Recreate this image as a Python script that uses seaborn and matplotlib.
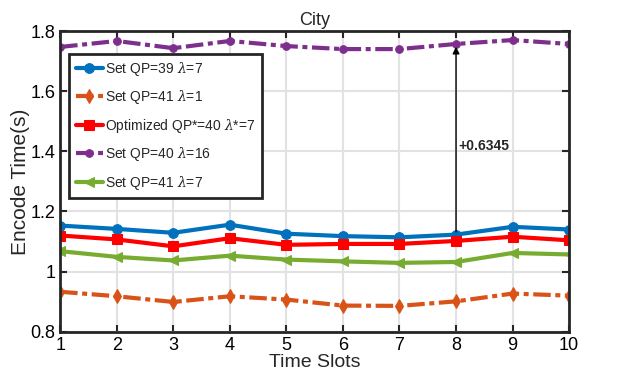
import numpy as np
import pandas as pd
import matplotlib
matplotlib.use('Agg')
import matplotlib.pyplot as plt
import seaborn as sns

# --- data ---
slots = [1, 2, 3, 4, 5, 6, 7, 8, 9, 10]
qp39_l7 = [1.153, 1.142, 1.129, 1.156, 1.126, 1.118, 1.114, 1.123, 1.149, 1.140]
qp41_l1 = [0.933, 0.918, 0.899, 0.918, 0.907, 0.887, 0.886, 0.901, 0.927, 0.920]
opt_qp40_l7 = [1.120, 1.107, 1.084, 1.111, 1.089, 1.092, 1.092, 1.102, 1.116, 1.104]
qp40_l16 = [1.747, 1.767, 1.743, 1.767, 1.750, 1.740, 1.740, 1.757, 1.770, 1.757]
qp41_l7 = [1.068, 1.049, 1.037, 1.053, 1.040, 1.034, 1.029, 1.032, 1.062, 1.057]

labels = [r'Set QP=39 $\lambda$=7', r'Set QP=41 $\lambda$=1',
          r'Optimized QP*=40 $\lambda$*=7', r'Set QP=40 $\lambda$=16',
          r'Set QP=41 $\lambda$=7']
series = [qp39_l7, qp41_l1, opt_qp40_l7, qp40_l16, qp41_l7]
colors = ['#0072BD', '#D95319', '#FF0000', '#7E2F8E', '#77AC30']
markers = ['o', 'd', 's', '.', '<']
dashed = [False, True, False, True, False]

sns.set_style('whitegrid')
plt.rcParams['font.family'] = ['Liberation Sans', 'DejaVu Sans']
plt.rcParams['mathtext.fontset'] = 'custom'
plt.rcParams['mathtext.it'] = 'DejaVu Serif:italic'

fig, ax = plt.subplots(figsize=(6.2, 3.88), dpi=100)

for lab, vals, c, m, d in zip(labels, series, colors, markers, dashed):
    df = pd.DataFrame({'slot': slots, 'time': vals})
    ms = 11 if m == '.' else 7
    line_kw = dict(dashes=(4.2, 1.1, 1.2, 1.1)) if d else dict(linestyle='-')
    sns.lineplot(data=df, x='slot', y='time', ax=ax, color=c, marker=m,
                 linewidth=3, markersize=ms, markeredgecolor=c, label=lab,
                 **line_kw)

# gap annotation at slot 8
ax.annotate('', xy=(8, qp40_l16[7]), xytext=(8, qp39_l7[7]),
            arrowprops=dict(arrowstyle='-|>', color='black', lw=1,
                            mutation_scale=10))
ax.text(8.05, 1.417, '+0.6345', fontsize=10, fontweight='bold',
        va='center', ha='left')

ax.set_xlim(1, 10)
ax.set_ylim(0.8, 1.8)
ax.set_xticks(slots)
ax.set_yticks([0.8, 1.0, 1.2, 1.4, 1.6, 1.8])
ax.set_yticklabels(['0.8', '1', '1.2', '1.4', '1.6', '1.8'])
ax.tick_params(direction='in', length=5, width=1.5, labelsize=13,
               top=True, right=True, bottom=True, left=True, colors='#262626')
ax.tick_params(labelcolor='black')
ax.grid(True, color='#e2e2e2', linewidth=1.5)
for sp in ax.spines.values():
    sp.set_color('#262626')
    sp.set_linewidth(2)

ax.set_title('City', fontsize=13, pad=4)
ax.set_xlabel('Time Slots', fontsize=14, labelpad=0)
ax.set_ylabel('Encode Time(s)', fontsize=15, labelpad=0)

leg = ax.legend(loc='upper left', bbox_to_anchor=(0.018, 0.925), fontsize=10,
                frameon=True, fancybox=False, handlelength=2.0,
                handletextpad=0.15, borderpad=0.45, labelspacing=0.75,
                borderaxespad=0)
leg.get_frame().set_edgecolor('#262626')
leg.get_frame().set_linewidth(2)
leg.get_frame().set_alpha(1)

plt.subplots_adjust(left=0.097, right=0.918, top=0.92, bottom=0.145)
fig.savefig('out.png', dpi=100)
